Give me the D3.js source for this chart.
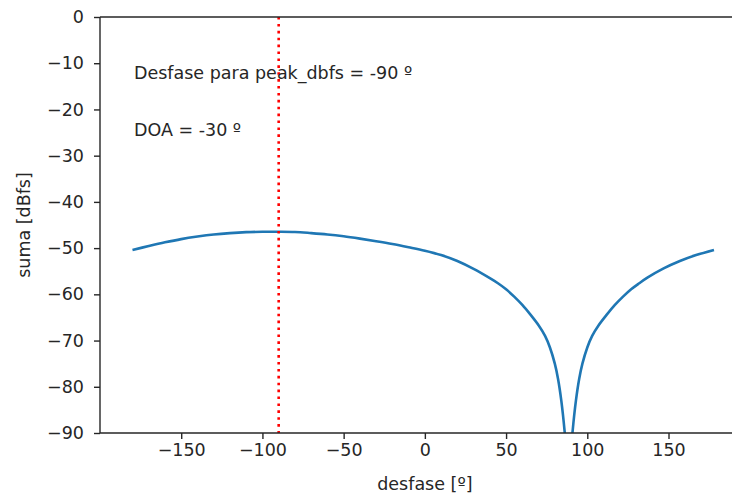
<!DOCTYPE html>
<html>
<head>
<meta charset="utf-8">
<script src="https://cdn.jsdelivr.net/npm/d3@7"></script>
<style>
  html, body { margin: 0; padding: 0; background: #fff; }
  svg { display: block; }
  text { font-family: "DejaVu Sans", sans-serif; fill: #262626; }
</style>
</head>
<body>
<script>
// Phase sweep (degrees) and summed level (dBfs)
const desfase = [-180, -170, -160, -150, -140, -130, -120, -110, -100, -90,
  -80, -70, -60, -50, -40, -30, -20, -10, 0, 10, 20, 30, 40, 45, 50, 55, 60,
  65, 70, 74, 77, 80, 82, 84, 86, 87, 88, 89, 90, 91, 93, 95, 97, 100, 103,
  107, 112, 117, 122, 127, 132, 137, 147, 157, 167, 178];
const suma = [-50.4, -49.55, -48.75, -48.05, -47.5, -47.05, -46.75, -46.55, -46.47, -46.45,
  -46.5, -46.75, -47.05, -47.45, -47.95, -48.5, -49.1, -49.8, -50.55, -51.5, -52.8, -54.5, -56.5, -57.6, -58.9, -60.5, -62.3,
  -64.4, -66.7, -69.0, -71.5, -75.0, -78.3, -83.0, -89.5, -94.0, -102.0, -102.0, -94.0, -89.5, -83.0, -78.3, -75.0, -71.5, -69.0,
  -66.7, -64.4, -62.3, -60.5, -58.9, -57.6, -56.4, -54.4, -52.8, -51.5, -50.4];

const xTicks = [-150, -100, -50, 0, 50, 100, 150];
const yTicks = [0, -10, -20, -30, -40, -50, -60, -70, -80, -90];
const peakDesfase = -90;
const annotations = ["Desfase para peak_dbfs = -90 º", "DOA = -30 º"];

const W = 732, H = 496;
const plotLeft = 100, plotTop = 17, plotBottom = 433;
const pxPerDeg = 1.6243;

const svg = d3.select("body").append("svg").attr("width", W).attr("height", H);

const x = d3.scaleLinear().domain([-200, 200]).range([plotLeft, plotLeft + 400 * pxPerDeg]);
const y = d3.scaleLinear().domain([-90, 0]).range([plotBottom, plotTop]);

svg.append("defs").append("clipPath").attr("id", "plot-area")
  .append("rect").attr("x", plotLeft).attr("y", plotTop)
  .attr("width", x(200) - plotLeft).attr("height", plotBottom - plotTop);

// Curve
const line = d3.line()
  .x((d, i) => x(desfase[i]))
  .y(d => y(d))
  .curve(d3.curveCatmullRom.alpha(0.5));

svg.append("path")
  .datum(suma)
  .attr("clip-path", "url(#plot-area)")
  .attr("d", line)
  .attr("fill", "none")
  .attr("stroke", "#1f77b4")
  .attr("stroke-width", 2.6)
  .attr("stroke-linejoin", "round")
  .attr("stroke-linecap", "butt");

// Peak marker
svg.append("line")
  .attr("x1", x(peakDesfase)).attr("x2", x(peakDesfase))
  .attr("y1", y(0)).attr("y2", y(-90))
  .attr("stroke", "#ff0000")
  .attr("stroke-width", 2.6)
  .attr("stroke-dasharray", "2.6,4.3");

// Axes
const xAxis = d3.axisBottom(x).tickValues(xTicks).tickSize(6).tickPadding(5)
  .tickFormat(d => d3.format("d")(d).replace("-", "\u2212"));
const yAxis = d3.axisLeft(y).tickValues(yTicks).tickSize(6).tickPadding(10)
  .tickFormat(d => d3.format("d")(d).replace("-", "\u2212"));

const gx = svg.append("g").attr("transform", `translate(0,${plotBottom})`).call(xAxis);
const gy = svg.append("g").attr("transform", `translate(${plotLeft},0)`).call(yAxis);

[gx, gy].forEach(g => {
  g.select(".domain").remove();
  g.selectAll(".tick line").attr("stroke", "#262626").attr("stroke-width", 1.4);
  g.selectAll(".tick text").attr("font-size", 17.5).attr("font-family", "DejaVu Sans").attr("fill", "#262626");
});

// Spines
const spine = svg.append("g").attr("stroke", "#262626").attr("stroke-width", 1.4).attr("fill", "none");
spine.append("line").attr("x1", plotLeft).attr("x2", W).attr("y1", plotTop).attr("y2", plotTop);
spine.append("line").attr("x1", plotLeft).attr("x2", W).attr("y1", plotBottom).attr("y2", plotBottom);
spine.append("line").attr("x1", plotLeft).attr("x2", plotLeft).attr("y1", plotTop).attr("y2", plotBottom);

// Axis labels
svg.append("text")
  .attr("x", x(0)).attr("y", 490)
  .attr("text-anchor", "middle")
  .attr("font-size", 17.5)
  .text("desfase [º]");

svg.append("text")
  .attr("transform", `translate(30,${(plotTop + plotBottom) / 2}) rotate(-90)`)
  .attr("text-anchor", "middle")
  .attr("font-size", 17.5)
  .text("suma [dBfs]");

// Annotations
svg.append("text").attr("x", 134).attr("y", 79).attr("font-size", 17.5).text(annotations[0]);
svg.append("text").attr("x", 134).attr("y", 136).attr("font-size", 17.5).text(annotations[1]);
</script>
</body>
</html>
